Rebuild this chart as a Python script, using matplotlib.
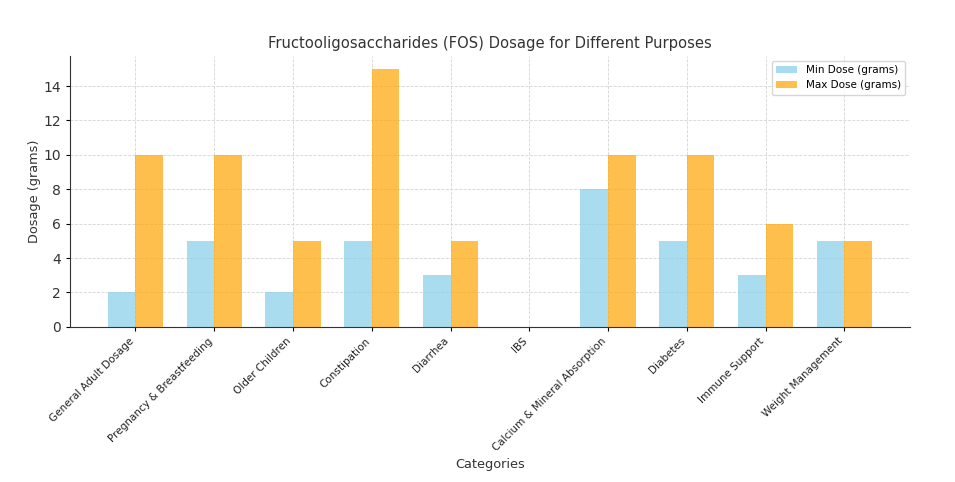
import matplotlib
matplotlib.use("Agg")
import matplotlib.pyplot as plt
import numpy as np

categories = [
    "General Adult Dosage", "Pregnancy & Breastfeeding", "Older Children",
    "Constipation", "Diarrhea", "IBS", "Calcium & Mineral Absorption",
    "Diabetes", "Immune Support", "Weight Management",
]
min_dose = [2, 5, 2, 5, 3, 0, 8, 5, 3, 5]
max_dose = [10, 10, 5, 15, 5, 0, 10, 10, 6, 5]

x = np.arange(len(categories))
width = 0.35

fig, ax = plt.subplots(figsize=(9.55, 4.82), dpi=100)
ax.bar(x - width / 2, min_dose, width, label="Min Dose (grams)", color="skyblue", alpha=0.7)
ax.bar(x + width / 2, max_dose, width, label="Max Dose (grams)", color="orange", alpha=0.7)

ax.set_title("Fructooligosaccharides (FOS) Dosage for Different Purposes", fontsize=10.6, color="#333333")
ax.set_xlabel("Categories", fontsize=9.3, color="#333333")
ax.set_ylabel("Dosage (grams)", fontsize=9.3, color="#333333")
ax.yaxis.set_label_coords(-0.034, 0.5)
ax.set_xticks(x)
ax.set_xticklabels(categories, rotation=45, ha="right", fontsize=7.5, color="#222222")
ax.tick_params(axis="y", labelsize=10, labelcolor="#333333", length=3)
ax.tick_params(axis="x", length=3)
ax.grid(True, linestyle="--", color="#d5d5d5", linewidth=0.6)
ax.set_axisbelow(True)
for s in ["top", "right"]:
    ax.spines[s].set_visible(False)
for s in ["left", "bottom"]:
    ax.spines[s].set_color("#333333")
ax.legend(fontsize=7.5, loc="upper right")

plt.subplots_adjust(left=0.073, right=0.953, top=0.884, bottom=0.322)
plt.savefig("out.png")
